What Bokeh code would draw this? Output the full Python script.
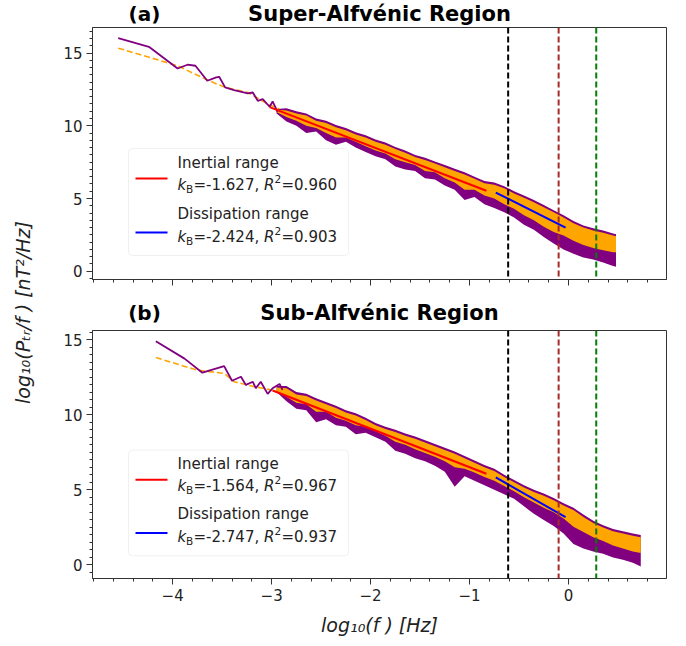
import math
import numpy as np
from bokeh.plotting import figure
from bokeh.layouts import row, column
from bokeh.models import (Range1d, SingleIntervalTicker, Span, Label, BoxAnnotation,
                          CustomJSTickFormatter, Arrow)
from bokeh.embed import file_html
from bokeh.resources import INLINE

FONT = "DejaVu Sans"

# ---------------- data ----------------
titles = ["Super-Alfvénic Region", "Sub-Alfvénic Region"]
panel_tags = ["(a)", "(b)"]
legend_names = ["Inertial range", "Dissipation range"]
k_inertial = [-1.627, -1.564]
r2_inertial = [0.960, 0.967]
k_dissip = [-2.424, -2.747]
r2_dissip = [0.903, 0.937]
icpt_inertial = [3.35, 3.94]
icpt_dissip = [2.89, 3.07]
inertial_span = [(-3.02, -0.83), (-2.99, -0.83)]
dissip_span = [(-0.735, -0.03), (-0.735, -0.03)]
vlines = [-0.61, -0.10, 0.28]
vline_colors = ["black", "brown", "green"]

a_low_x = [-4.55, -4.24, -3.95, -3.85, -3.77, -3.65, -3.56, -3.53, -3.47, -3.38, -3.24, -3.19, -3.14, -3.09, -3.02, -2.99, -2.94]
a_low_y = [16.03, 15.43, 13.94, 14.20, 14.13, 13.10, 13.33, 13.37, 12.64, 12.46, 12.23, 12.29, 11.72, 11.84, 11.31, 11.68, 10.95]
a_dash_x = [-4.55, -3.95, -3.65, -3.47, -3.24, -3.04, -2.92]
a_dash_y = [15.34, 14.13, 13.15, 12.64, 12.29, 11.50, 11.15]

a_band_x = [-2.95, -2.85, -2.75, -2.65, -2.55, -2.45, -2.35, -2.25, -2.15, -2.05, -1.95, -1.85, -1.75, -1.65, -1.55, -1.45, -1.35, -1.25, -1.15, -1.05, -0.95, -0.85, -0.75, -0.65, -0.55, -0.45, -0.35, -0.25, -0.15, -0.05, 0.05, 0.15, 0.25, 0.35, 0.45, 0.48]
a_purple_hi = [11.15, 11.2, 11.0, 10.85, 10.5, 10.35, 10.05, 9.85, 9.55, 9.35, 9.05, 8.85, 8.55, 8.3, 8.0, 7.8, 7.55, 7.3, 7.05, 6.8, 6.5, 6.2, 6.1, 5.85, 5.5, 5.2, 4.9, 4.55, 4.2, 3.85, 3.45, 3.15, 2.95, 2.8, 2.6, 2.55]
a_purple_lo = [10.85, 10.3, 10.0, 9.5, 9.6, 9.0, 8.7, 8.9, 8.5, 8.2, 7.9, 7.7, 7.2, 7.0, 6.9, 6.4, 6.3, 5.9, 5.6, 4.9, 5.1, 4.6, 4.35, 4.05, 3.7, 3.2, 2.85, 2.35, 1.9, 1.5, 1.2, 0.95, 0.8, 0.6, 0.35, 0.3]
a_orange_hi = [11.1, 11.05, 10.85, 10.7, 10.35, 10.2, 9.9, 9.7, 9.4, 9.2, 8.9, 8.7, 8.4, 8.15, 7.85, 7.65, 7.4, 7.15, 6.9, 6.65, 6.35, 6.05, 5.95, 5.7, 5.35, 5.05, 4.75, 4.4, 4.05, 3.7, 3.3, 3.0, 2.8, 2.65, 2.45, 2.4]
a_orange_lo = [10.95, 10.6, 10.35, 10.0, 9.85, 9.5, 9.2, 9.2, 8.9, 8.6, 8.3, 8.1, 7.7, 7.5, 7.3, 6.9, 6.8, 6.4, 6.1, 5.6, 5.6, 5.2, 5.0, 4.6, 4.3, 3.85, 3.5, 3.05, 2.7, 2.45, 2.1, 1.8, 1.6, 1.45, 1.3, 1.3]

b_low_x = [-4.17, -3.88, -3.70, -3.48, -3.40, -3.31, -3.26, -3.19, -3.16, -3.11, -3.04, -2.99, -2.92, -2.89]
b_low_y = [14.89, 13.73, 12.79, 13.23, 12.26, 12.52, 11.98, 12.19, 11.76, 12.19, 11.38, 11.76, 12.04, 11.65]
b_dash_x = [-4.17, -3.75, -3.48, -3.38, -3.18, -3.01, -2.92]
b_dash_y = [13.80, 12.96, 12.75, 12.19, 11.87, 11.65, 11.50]

b_band_x = [-2.95, -2.85, -2.75, -2.65, -2.55, -2.45, -2.35, -2.25, -2.15, -2.05, -1.95, -1.85, -1.75, -1.65, -1.55, -1.45, -1.35, -1.25, -1.15, -1.05, -0.95, -0.85, -0.75, -0.65, -0.55, -0.45, -0.35, -0.25, -0.15, -0.05, 0.05, 0.15, 0.25, 0.35, 0.45, 0.55, 0.65, 0.73]
b_purple_hi = [11.9, 11.9, 11.5, 11.4, 11.1, 10.85, 10.6, 10.3, 10.1, 9.8, 9.45, 9.2, 9.0, 8.75, 8.55, 8.3, 8.05, 7.8, 7.55, 7.25, 6.95, 6.65, 6.4, 6.0, 5.65, 5.3, 5.0, 4.75, 4.45, 4.1, 3.8, 3.35, 2.95, 2.65, 2.4, 2.25, 2.1, 2.0]
b_purple_lo = [11.5, 10.9, 10.4, 10.3, 9.5, 9.7, 9.3, 9.2, 8.7, 8.8, 8.5, 8.2, 7.6, 7.4, 7.1, 6.9, 6.6, 6.2, 5.2, 5.9, 5.6, 5.3, 5.0, 4.7, 4.4, 3.9, 3.4, 3.0, 2.6, 2.1, 1.4, 1.1, 0.9, 0.75, 0.5, 0.35, 0.15, -0.1]
b_orange_hi = [11.8, 11.75, 11.35, 11.25, 10.95, 10.7, 10.45, 10.15, 9.95, 9.65, 9.3, 9.05, 8.85, 8.6, 8.4, 8.15, 7.9, 7.65, 7.4, 7.1, 6.8, 6.5, 6.25, 5.85, 5.5, 5.15, 4.85, 4.6, 4.3, 3.95, 3.65, 3.2, 2.8, 2.5, 2.25, 2.1, 1.95, 1.85]
b_orange_lo = [11.6, 11.2, 10.8, 10.7, 10.2, 10.2, 9.8, 9.6, 9.3, 9.2, 8.9, 8.6, 8.2, 8.0, 7.7, 7.45, 7.2, 6.9, 6.5, 6.4, 6.15, 5.85, 5.6, 5.25, 4.9, 4.5, 4.15, 3.8, 3.5, 3.1, 2.55, 2.2, 1.85, 1.6, 1.3, 1.1, 0.9, 0.8]

low_x = [a_low_x, b_low_x]
low_y = [a_low_y, b_low_y]
dash_x = [a_dash_x, b_dash_x]
dash_y = [a_dash_y, b_dash_y]
band_x = [a_band_x, b_band_x]
purple_hi = [a_purple_hi, b_purple_hi]
purple_lo = [a_purple_lo, b_purple_lo]
orange_hi = [a_orange_hi, b_orange_hi]
orange_lo = [a_orange_lo, b_orange_lo]

# ---------------- layout ----------------
X_RANGE = (-4.81, 0.99)
Y_RANGES = [(-0.57, 16.76), (-0.90, 15.60)]
FRAME_W = 574
FRAME_H = [252, 251]
TITLE_H = [27, 32]          # strip above each panel holding its title
TITLE_Y = [14, 18]          # title centre, px above the panel frame
BORDER_BOTTOM = [19, 57]
FIG_W = 629
BORDER_LEFT = 44
BORDER_RIGHT = FIG_W - BORDER_LEFT - FRAME_W
LAB_W = 40

PURPLE = "#800080"
ORANGE = "#ffa500"
RED = "#ff0000"
BLUE = "#0000ff"
AX = "#333333"


def sx(px):
    return X_RANGE[0] + px * (X_RANGE[1] - X_RANGE[0]) / FRAME_W


def sy(py, yr, fh):
    return yr[1] - py * (yr[1] - yr[0]) / fh


fmt = CustomJSTickFormatter(code="return tick < 0 ? '\u2212' + (-tick) : '' + tick;")
blank_fmt = CustomJSTickFormatter(code="return '';")

xr = Range1d(*X_RANGE)
items = []
for i in range(2):
    # title strip
    th = TITLE_H[i]
    t = figure(width=FIG_W, height=th, x_range=xr, y_range=Range1d(0, th),
               output_backend="svg", toolbar_location=None,
               min_border_left=BORDER_LEFT, min_border_right=BORDER_RIGHT,
               min_border_top=0, min_border_bottom=0,
               x_axis_type=None, y_axis_type=None, outline_line_color=None)
    t.xgrid.visible = False
    t.ygrid.visible = False
    t.add_layout(Label(x=(X_RANGE[0] + X_RANGE[1]) / 2, y=TITLE_Y[i],
                       text=titles[i], text_font=FONT, text_font_size="21px",
                       text_font_style="bold", text_align="center", text_baseline="middle",
                       text_color="black"))
    t.add_layout(Label(x=sx(52), y=TITLE_Y[i],
                       text=panel_tags[i], text_font=FONT, text_font_size="20px",
                       text_font_style="bold", text_align="center", text_baseline="middle",
                       text_color="black"))
    items.append(t)

    yr = Y_RANGES[i]
    fh = FRAME_H[i]
    p = figure(width=FIG_W, height=fh + BORDER_BOTTOM[i],
               x_range=xr, y_range=Range1d(*yr),
               output_backend="svg", toolbar_location=None,
               min_border_left=BORDER_LEFT, min_border_right=BORDER_RIGHT,
               min_border_top=0, min_border_bottom=BORDER_BOTTOM[i])
    p.xgrid.visible = False
    p.ygrid.visible = False
    p.outline_line_color = AX
    p.outline_line_alpha = 1

    p.xaxis.ticker = SingleIntervalTicker(interval=1, num_minor_ticks=5)
    p.yaxis.ticker = SingleIntervalTicker(interval=5, num_minor_ticks=10)
    p.xaxis.formatter = fmt if i == 1 else blank_fmt
    for ax in (p.xaxis[0], p.yaxis[0]):
        ax.axis_line_color = AX
        ax.major_tick_line_color = AX
        ax.minor_tick_line_color = AX
        ax.major_tick_out = 6
        ax.major_tick_in = 0
        ax.minor_tick_out = 3
        ax.minor_tick_in = 0
        ax.major_label_text_font = FONT
        ax.major_label_text_font_size = "15px"
        ax.major_label_text_color = "#222222"
        ax.major_label_standoff = 4
    if i == 0:
        p.xaxis.major_label_standoff = 0
    else:
        p.xaxis.axis_label = "log\u2081\u2080(f ) [Hz]"
        p.xaxis.axis_label_text_font = FONT
        p.xaxis.axis_label_text_font_size = "19px"
        p.xaxis.axis_label_text_font_style = "italic"
        p.xaxis.axis_label_text_color = "#222222"
        p.xaxis.axis_label_standoff = 10

    # spectrum
    p.varea(x=band_x[i], y1=purple_lo[i], y2=purple_hi[i], fill_color=PURPLE)
    p.varea(x=band_x[i], y1=orange_lo[i], y2=orange_hi[i], fill_color=ORANGE)
    p.line(dash_x[i], dash_y[i], line_color=ORANGE, line_width=1.6, line_dash="6 3")
    p.line(low_x[i], low_y[i], line_color=PURPLE, line_width=1.8)

    # fits (log10(P/f) slope = k - 1)
    xi = np.array(inertial_span[i])
    p.line(xi, icpt_inertial[i] + (k_inertial[i] - 1) * xi, line_color=RED, line_width=2)
    xd = np.array(dissip_span[i])
    p.line(xd, icpt_dissip[i] + (k_dissip[i] - 1) * xd, line_color=BLUE, line_width=2)

    for v, c in zip(vlines, vline_colors):
        p.add_layout(Span(location=v, dimension="height", line_color=c,
                          line_dash="6 3", line_width=2))

    # legend
    bl, br, bt, bb = 36, 256, 121, 228
    p.add_layout(BoxAnnotation(left=sx(bl), right=sx(br), top=sy(bt, yr, fh), bottom=sy(bb, yr, fh),
                               fill_color="white", fill_alpha=0.85, line_color="#cccccc",
                               line_width=1, border_radius=4))
    entries = [(RED, legend_names[0], k_inertial[i], r2_inertial[i]),
               (BLUE, legend_names[1], k_dissip[i], r2_dissip[i])]
    name_dy = [14, 65]
    k_dy = [36, 88]
    line_dy = [30, 84]
    tx = sx(bl + 49)
    for j, (col, name, k, r2) in enumerate(entries):
        ly = sy(bt + line_dy[j], yr, fh)
        p.add_layout(Arrow(end=None, x_start=sx(bl + 7), y_start=ly, x_end=sx(bl + 39), y_end=ly,
                           line_color=col, line_width=2))
        p.add_layout(Label(x=tx, y=sy(bt + name_dy[j], yr, fh), text=name, text_font=FONT,
                           text_font_size="15px", text_baseline="middle", text_color="#222222"))
        yk = sy(bt + k_dy[j], yr, fh)
        pieces = [("k", 0, 0, "italic", "15px"),
                  ("B", 8.5, -4, "normal", "10.5px"),
                  (f"={k:.3f}, ", 16, 0, "normal", "15px"),
                  ("R", 86.5, 0, "italic", "15px"),
                  ("2", 97, 6, "normal", "10.5px"),
                  (f"={r2:.3f}", 104, 0, "normal", "15px")]
        for txt, xo, yo, st, fs in pieces:
            p.add_layout(Label(x=tx, y=yk, x_offset=xo, y_offset=yo, text=txt, text_font=FONT,
                               text_font_size=fs, text_font_style=st, text_baseline="middle",
                               text_color="#222222"))
    items.append(p)

TOTAL_H = sum(TITLE_H) + sum(FRAME_H) + sum(BORDER_BOTTOM)

# shared y-axis label
lab = figure(width=LAB_W, height=TOTAL_H, x_range=(0, LAB_W), y_range=(0, TOTAL_H),
             output_backend="svg", toolbar_location=None, min_border=0,
             x_axis_type=None, y_axis_type=None, outline_line_color=None)
lab.xgrid.visible = False
lab.ygrid.visible = False
lab.add_layout(Label(x=14, y=TOTAL_H - 312, angle=math.pi / 2,
                     text="log\u2081\u2080(P\u209c\u1d63/f ) [nT\u00b2/Hz]",
                     text_font=FONT, text_font_size="19px", text_font_style="italic",
                     text_align="center", text_baseline="middle", text_color="#222222"))

layout = row(lab, column(*items), margin=(0, 0, 0, 8))
open("out.html", "w").write(file_html(layout, INLINE))
